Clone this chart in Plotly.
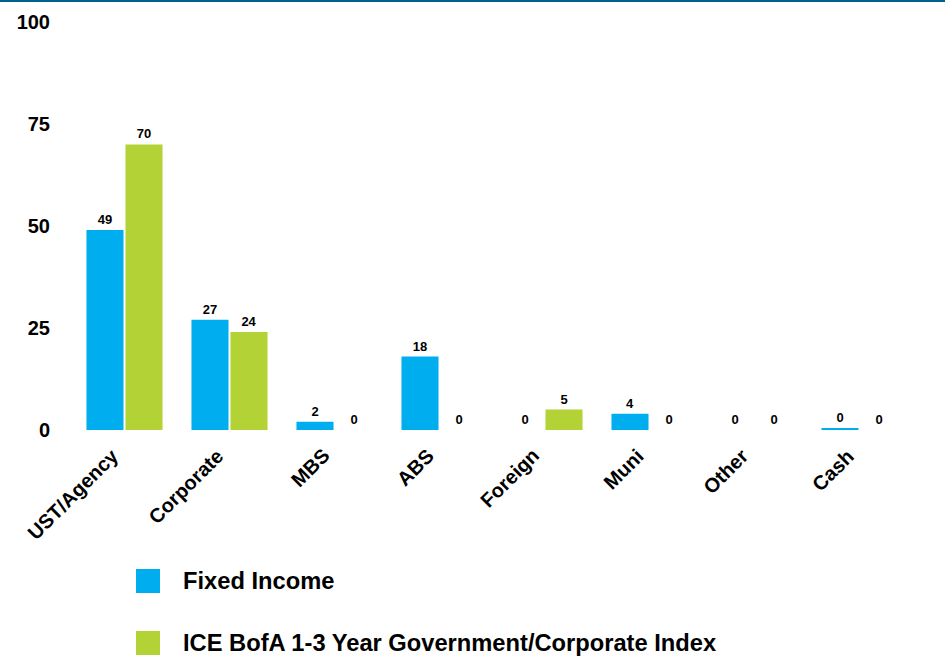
import plotly.graph_objects as go

# Sector allocation (%) for the portfolio and its benchmark
categories = ["UST/Agency", "Corporate", "MBS", "ABS", "Foreign", "Muni", "Other", "Cash"]
fixed_income = [49, 27, 2, 18, 0, 4, 0, 0.4]
benchmark = [70, 24, 0, 0, 5, 0, 0, 0]
series_names = ["Fixed Income", "ICE BofA 1-3 Year Government/Corporate Index"]
y_ticks = [0, 25, 50, 75, 100]

BLUE = "#00AEEF"
GREEN = "#B3D236"
FONT = "Liberation Sans, Arial, sans-serif"

W, H = 945, 657
ML, MR, MT, MB = 72, 33, 22, 227
PW, PH = W - ML - MR, H - MT - MB


def px_x(px):
    return (px - ML) / PW


def px_y(py):
    return (H - MB - py) / PH


fig = go.Figure()
for vals, color in [(fixed_income, BLUE), (benchmark, GREEN)]:
    fig.add_trace(go.Bar(
        x=categories, y=vals,
        marker=dict(color=color, line=dict(width=0)),
        texttemplate="%{y:.0f}", textposition="outside",
        textfont=dict(family=FONT, size=13, color="black", weight="bold"),
        cliponaxis=False, showlegend=False,
    ))

shapes = [dict(type="line", xref="paper", yref="paper",
               x0=px_x(0), x1=px_x(W), y0=px_y(1), y1=px_y(1),
               line=dict(color="#00628D", width=2))]
annotations = []

# Slanted category labels hanging below the baseline
for cat in categories:
    annotations.append(dict(x=cat, y=0, xref="x", yref="y", text=cat, textangle=-45,
                            xanchor="right", yanchor="top", showarrow=False,
                            xshift=0, yshift=-13, borderpad=0,
                            font=dict(family=FONT, size=20, color="black", weight="bold")))

# Legend drawn as swatches with labels
for i, (name, color) in enumerate(zip(series_names, [BLUE, GREEN])):
    cy = 581 + i * 62
    shapes.append(dict(type="rect", xref="paper", yref="paper",
                       x0=px_x(136), x1=px_x(160), y0=px_y(cy - 12), y1=px_y(cy + 12),
                       fillcolor=color, line=dict(width=0)))
    annotations.append(dict(xref="paper", yref="paper", x=px_x(181), y=px_y(cy),
                            xanchor="left", yanchor="middle", showarrow=False,
                            text=name,
                            font=dict(family=FONT, size=23.7, color="black", weight="bold")))

fig.update_layout(
    width=W, height=H,
    margin=dict(l=ML, r=MR, t=MT, b=MB),
    paper_bgcolor="white", plot_bgcolor="white",
    barmode="group", bargap=0.257, bargroupgap=0.05,
    shapes=shapes, annotations=annotations,
    xaxis=dict(range=[-0.5, len(categories) - 0.5], showticklabels=False,
               showline=False, showgrid=False, zeroline=False, ticks=""),
    yaxis=dict(range=[0, 100], tickvals=y_ticks, showline=False, showgrid=False,
               zeroline=False, ticks="", ticklabelstandoff=21,
               tickfont=dict(family=FONT, size=20, color="black", weight="bold")),
)

fig.write_html("out.html")
